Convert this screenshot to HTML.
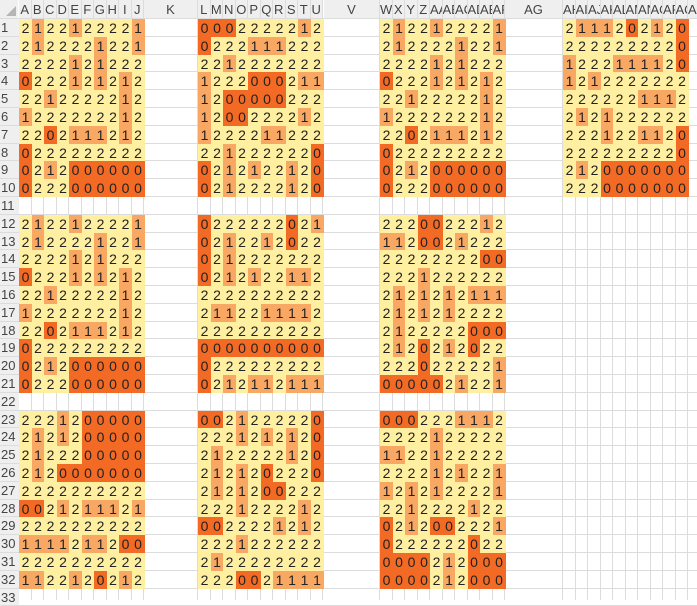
<!DOCTYPE html>
<html><head><meta charset="utf-8"><style>
body{margin:0;width:697px;height:600px;overflow:hidden;background:#fff;font-family:"Liberation Sans",sans-serif;position:relative}
.g{position:absolute;background:#dcdcdc}
.c{position:absolute;text-align:center;font-size:14px;color:#222;line-height:18px;height:17.8px}
.h{position:absolute;background:#efefef;color:#444;font-size:13px;text-align:center;overflow:hidden;white-space:nowrap;line-height:19px}
</style></head><body>
<div id="r"></div>
<script>
var R=document.getElementById('r'),H='';
var RH=17.8,T=19,L=19,CW=12.5;
var starts=[19,198,380,563];
var cols=[];
var lab=[['A','B','C','D','E','F','G','H','I','J'],['L','M','N','O','P','Q','R','S','T','U'],['W','X','Y','Z','AA','AB','AC','AD','AE','AF'],['AH','AI','AJ','AK','AL','AM','AN','AO','AP','AQ']];
var wide=[['K',144,198],['V',324,380],['AG',505,563]];
for(var b=0;b<4;b++){for(var i=0;i<10;i++)cols.push([starts[b]+i*CW,CW,lab[b][i]]);if(b<3)cols.push([wide[b][1],wide[b][2]-wide[b][1],wide[b][0]]);}
cols.push([688,12.5,'AR']);
cols.forEach(function(c){H+='<div class="g" style="left:'+(c[0]+c[1]-1)+'px;top:0;width:1px;height:600px"></div>';});
for(var r=0;r<=33;r++){H+='<div class="g" style="left:0;top:'+(T+r*RH-1).toFixed(1)+'px;width:697px;height:1px"></div>';}
H+='<div class="h" style="left:0;top:0;width:18px;height:18px"></div>';
H+='<div style="position:absolute;left:6px;top:6px;width:0;height:0;border-left:10px solid transparent;border-bottom:10px solid #b5b5b5"></div>';
cols.forEach(function(c){H+='<div class="h" style="left:'+c[0]+'px;top:0;width:'+(c[1]-1)+'px;height:18px">'+c[2]+'</div>';});
for(var r=1;r<=33;r++){H+='<div class="h" style="left:0;top:'+(T+(r-1)*RH).toFixed(1)+'px;width:18px;height:'+(RH-1)+'px;line-height:'+RH+'px;text-align:left;padding-left:1px;font-size:13px">'+r+'</div>';}
var A=['2122122221','2122221221','2222121222','0222121212','2212222212','1222222212','2202111212','0222222222','0212000000','0222000000'];
var B1=['0002222212','0222111222','2212222222','1222000211','1200000222','1200222212','1222211222','2212222220','0212122120','0212222120'];
var D1=['2111202120','2222222220','1222111120','1212222222','2222221112','2121222222','2221221120','2222222220','2120000000','2220000000'];
var B2=['0222222021','0212212022','0212222222','0212122112','2222222222','2112211112','2222222222','0000000000','0222222222','0212112111'];
var C2=['2220022212','1120021222','2222222200','2221222222','2121212111','2121212222','2122222000','2120212022','2220222221','0000021221'];
var A3=['2221200000','2121200000','2122200000','2120000000','2222222222','0021211121','2222222222','1111211200','2222222222','1122120212'];
var B3=['0021222220','2221212120','2122222120','2121202220','2121200222','2221222212','0022221212','2221222222','2122222222','2220021111'];
var C3=['0002221112','2222122222','1122122222','2222121221','1212122221','2212222122','0212002221','0222222022','0000212000','0000212000'];
var col={'2':'#FFEFA0','1':'#F8A862','0':'#F36A24'};
function blk(data,bi,row0){data.forEach(function(s,ri){for(var i=0;i<10;i++){var d=s[i];var x=starts[bi]+i*CW,y=T+(row0+ri-1)*RH;
H+='<div class="c" style="left:'+x+'px;top:'+y.toFixed(1)+'px;width:'+(CW+0.5)+'px;height:'+(RH+0.5)+'px;background:'+col[d]+'">'+d+'</div>';}});}
blk(A,0,1);blk(B1,1,1);blk(A,2,1);blk(D1,3,1);
blk(A,0,12);blk(B2,1,12);blk(C2,2,12);
blk(A3,0,23);blk(B3,1,23);blk(C3,2,23);
R.innerHTML=H;
</script>
</body></html>
